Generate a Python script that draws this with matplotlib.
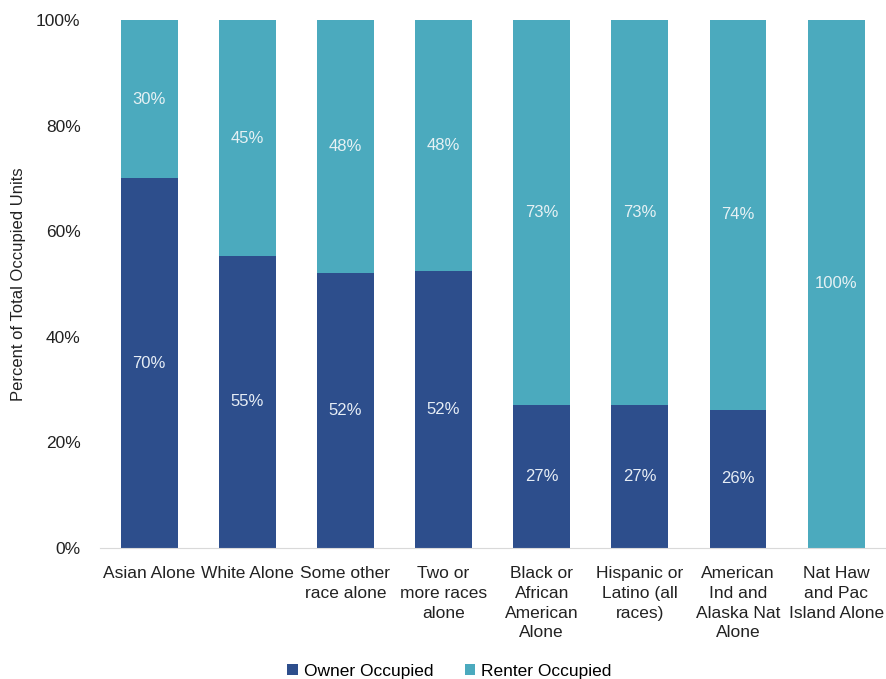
import numpy as np
import matplotlib.pyplot as plt

plt.rcParams['font.family'] = ['Liberation Sans', 'DejaVu Sans']

categorias = ['Asian Alone', 'White Alone', 'Some other\nrace alone', 'Two or\nmore races\nalone',
              'Black or\nAfrican\nAmerican\nAlone', 'Hispanic or\nLatino (all\nraces)',
              'American\nInd and\nAlaska Nat\nAlone', 'Nat Haw\nand Pac\nIsland Alone']
propietario = [70.0, 55.3, 52.1, 52.4, 27.1, 27.0, 26.2, 0.0]
inquilino = [30.0, 44.7, 47.9, 47.6, 72.9, 73.0, 73.8, 100.0]

color_prop = '#2D4E8C'
color_inq = '#4BAABE'

fig = plt.figure(figsize=(8.87, 6.79), dpi=100)
ax = fig.add_axes([0.1127, 0.193, 0.8853, 0.7775])

x = np.arange(len(categorias))
ancho = 0.58
ax.bar(x, propietario, ancho, color=color_prop, label='Owner Occupied')
ax.bar(x, inquilino, ancho, bottom=propietario, color=color_inq, label='Renter Occupied')

for i in range(len(x)):
    if propietario[i] > 0:
        ax.text(x[i], propietario[i] / 2, f'{round(propietario[i])}%', ha='center', va='center',
                color='#E6EDF5', fontsize=12)
    ax.text(x[i], propietario[i] + inquilino[i] / 2, f'{round(inquilino[i])}%', ha='center', va='center',
            color='#E6F1F4', fontsize=12)

ax.set_xlim(-0.5, len(x) - 0.5)
ax.set_ylim(0, 100)
ax.set_yticks([0, 20, 40, 60, 80, 100])
ax.set_yticklabels([f'{v}%' for v in [0, 20, 40, 60, 80, 100]], fontsize=12.5, color='#222222')
ax.set_xticks(x)
ax.set_xticklabels(categorias, fontsize=12.5, color='#222222', linespacing=1.4)
ax.tick_params(axis='both', length=0)
ax.tick_params(axis='y', pad=14)
ax.tick_params(axis='x', pad=13)
ax.set_ylabel('Percent of Total Occupied Units', fontsize=12, color='#222222', labelpad=7)

for lado in ['top', 'right', 'left']:
    ax.spines[lado].set_visible(False)
ax.spines['bottom'].set_color('#D9D9D9')

ax.legend(loc='lower center', bbox_to_anchor=(0.445, -0.277), ncol=2, frameon=False,
          fontsize=12.5, handlelength=0.6, handleheight=0.6, columnspacing=1.8, handletextpad=0.35)

plt.savefig('out.png', dpi=100)
